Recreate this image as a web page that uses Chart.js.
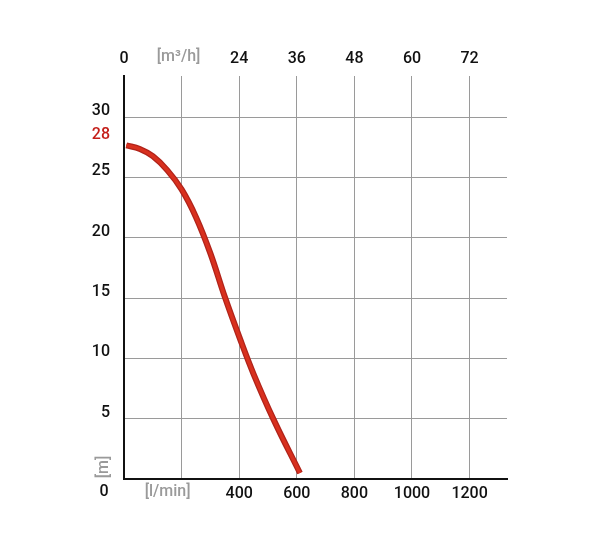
<!DOCTYPE html>
<html>
<head>
<meta charset="utf-8">
<script src="https://cdn.jsdelivr.net/npm/chart.js@4.4.1/dist/chart.umd.min.js"></script>
<style>
    html, body { margin: 0; padding: 0; background: #fff; }
    #wrap { width: 600px; height: 550px; }
</style>
</head>
<body>
<div id="wrap"><canvas id="plot" width="600" height="550"></canvas></div>
<script>
// pump curve: flow [l/min] vs head [m]
const flow = [8, 55, 100, 150, 200, 250, 300, 350, 400, 450, 520, 611];
const head = [27.65, 27.35, 26.75, 25.6, 24.0, 21.7, 18.7, 15.1, 11.8, 8.7, 4.9, 0.5];

const flowTicks = [0, 200, 400, 600, 800, 1000, 1200];
const cubicTicks = [0, 12, 24, 36, 48, 60, 72];   // m³/h, same spots as flowTicks
const headTicks = [0, 5, 10, 15, 20, 25, 28, 30];
const maxHeadMark = 28;

const X_MAX = 1330;
const Y_MAX = 33.4;
const FONT = { family: "Roboto", size: 16, weight: 500 };
const GREY = "#9a9a9a";
const RED = "#c41f1a";

const points = flow.map((x, i) => ({ x: x, y: head[i] }));

// unit labels and the y "0", placed off the scales
const unitLabels = {
    id: 'unitLabels',
    afterDraw: (chart) => {
        const {ctx, scales} = chart;
        const x = scales.x, y = scales.y;
        ctx.save();
        ctx.font = `${FONT.weight} ${FONT.size}px ${FONT.family}`;
        ctx.textAlign = 'center';
        ctx.textBaseline = 'middle';
        ctx.fillStyle = GREY;
        ctx.fillText('[l/min]', x.getPixelForValue(200) - 14, y.bottom + 13);
        ctx.fillText('[m³/h]', x.getPixelForValue(200) - 3, chart.chartArea.top - 19);
        ctx.fillStyle = "#111";
        ctx.fillText('0', 104, y.bottom + 13);
        ctx.translate(104, y.bottom - 12);
        ctx.rotate(-Math.PI / 2);
        ctx.fillStyle = GREY;
        ctx.fillText('[m]', 0, 0);
        ctx.restore();
    }
};

const setTicks = (list) => (scale) => {
    scale.ticks = list.map((v) => ({ value: v }));
};

new Chart(document.getElementById('plot'), {
    type: 'line',
    data: {
        datasets: [
            {
                // bright core, drawn on top
                data: points,
                borderColor: '#d8301e',
                borderWidth: 3.5,
                borderCapStyle: 'butt',
                tension: 0.4,
                pointRadius: 0,
                order: 0,
            },
            {
                // darker rim
                data: points,
                borderColor: '#b0231a',
                borderWidth: 6,
                borderCapStyle: 'butt',
                tension: 0.4,
                pointRadius: 0,
                order: 1,
            },
        ],
    },
    options: {
        responsive: false,
        animation: false,
        layout: { padding: { left: 0, right: 93, top: 0, bottom: 0 } },
        plugins: { legend: { display: false }, tooltip: { enabled: false } },
        scales: {
            x: {
                type: 'linear',
                position: 'bottom',
                min: 0,
                max: X_MAX,
                afterBuildTicks: setTicks(flowTicks),
                afterFit: (s) => { s.height = 71; },
                grid: { color: GREY, lineWidth: 1, drawTicks: false },
                border: { color: '#111', width: 2 },
                ticks: {
                    font: FONT,
                    color: '#111',
                    padding: 5,
                    maxRotation: 0,
                    callback: (v) => (v === 0 || v === 200) ? '' : String(v),
                },
            },
            x2: {
                type: 'linear',
                position: 'top',
                min: 0,
                max: X_MAX * 0.06,
                afterBuildTicks: setTicks(cubicTicks),
                afterFit: (s) => { s.height = 76; },
                grid: { display: false, drawTicks: false },
                border: { display: false },
                ticks: {
                    font: FONT,
                    color: '#111',
                    padding: 7,
                    maxRotation: 0,
                    callback: (v) => v === 12 ? '' : String(v),
                },
            },
            y: {
                type: 'linear',
                min: 0,
                max: Y_MAX,
                afterBuildTicks: setTicks(headTicks),
                afterFit: (s) => { s.width = 124; },
                grid: {
                    color: (c) => c.tick && c.tick.value === maxHeadMark ? 'rgba(0,0,0,0)' : GREY,
                    lineWidth: 1,
                    drawTicks: false,
                },
                border: { color: '#111', width: 2 },
                ticks: {
                    font: FONT,
                    color: (c) => c.tick && c.tick.value === maxHeadMark ? RED : '#111',
                    padding: 14,
                    labelOffset: -6,
                    callback: (v) => v === 0 ? '' : String(v),
                },
            },
        },
    },
    plugins: [unitLabels],
});
</script>
</body>
</html>
